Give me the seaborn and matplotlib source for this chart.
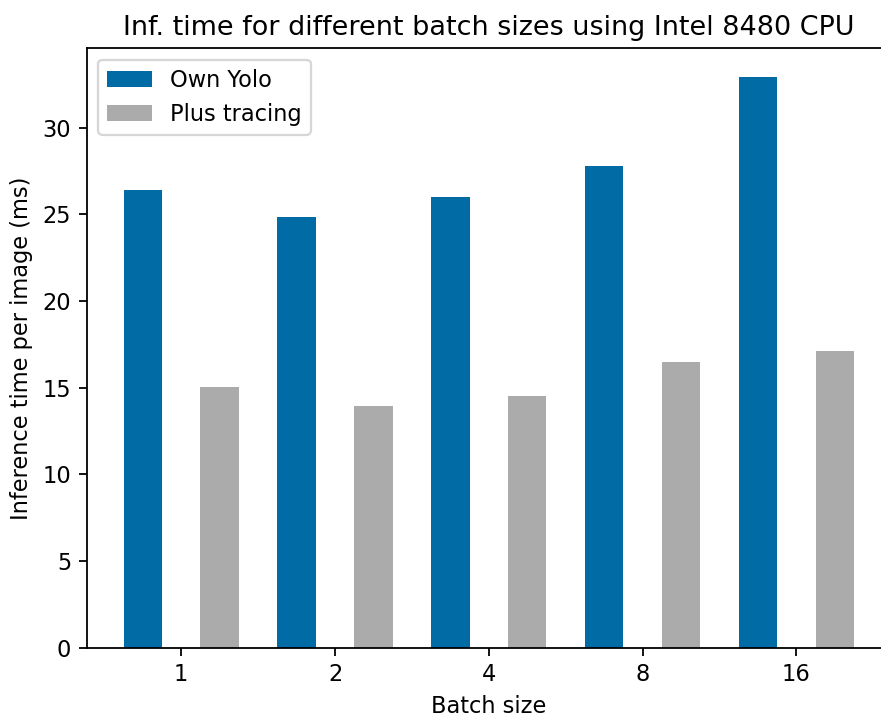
import pandas as pd
import matplotlib
matplotlib.use("Agg")
import matplotlib.pyplot as plt
import seaborn as sns

# values
batch_sizes = ["1", "2", "4", "8", "16"]
own_yolo = [26.41, 24.84, 26.0, 27.79, 32.94]
plus_tracing = [15.04, 13.94, 14.52, 16.48, 17.12]
series_names = ["Own Yolo", "Plus tracing"]

df = pd.DataFrame({
    "Batch size": batch_sizes * 2,
    "time": own_yolo + plus_tracing,
    "series": [series_names[0]] * len(batch_sizes) + [series_names[1]] * len(batch_sizes),
})

DPI = 162
fig = plt.figure(figsize=(881 / DPI, 718 / DPI), dpi=DPI)
# axes run past the right edge, like the cropped original
ax = fig.add_axes([87 / 881, 70.3 / 718, 803.6 / 881, 599.4 / 718])

sns.barplot(data=df, x="Batch size", y="time", hue="series", order=batch_sizes,
            hue_order=series_names, palette=["#006BA4", "#ABABAB"],
            width=1.0, gap=0.5, saturation=1, errorbar=None, linewidth=0, ax=ax)

ax.set_xlim(-0.6125, 4.6125)
ax.set_ylim(0, 32.94 * 1.05)
ax.set_title("Inf. time for different batch sizes using Intel 8480 CPU", fontsize=12)
ax.set_xlabel("Batch size")
ax.set_ylabel("Inference time per image (ms)")
ax.legend(loc="upper left", title=None)

fig.savefig("out.png", dpi=DPI)
